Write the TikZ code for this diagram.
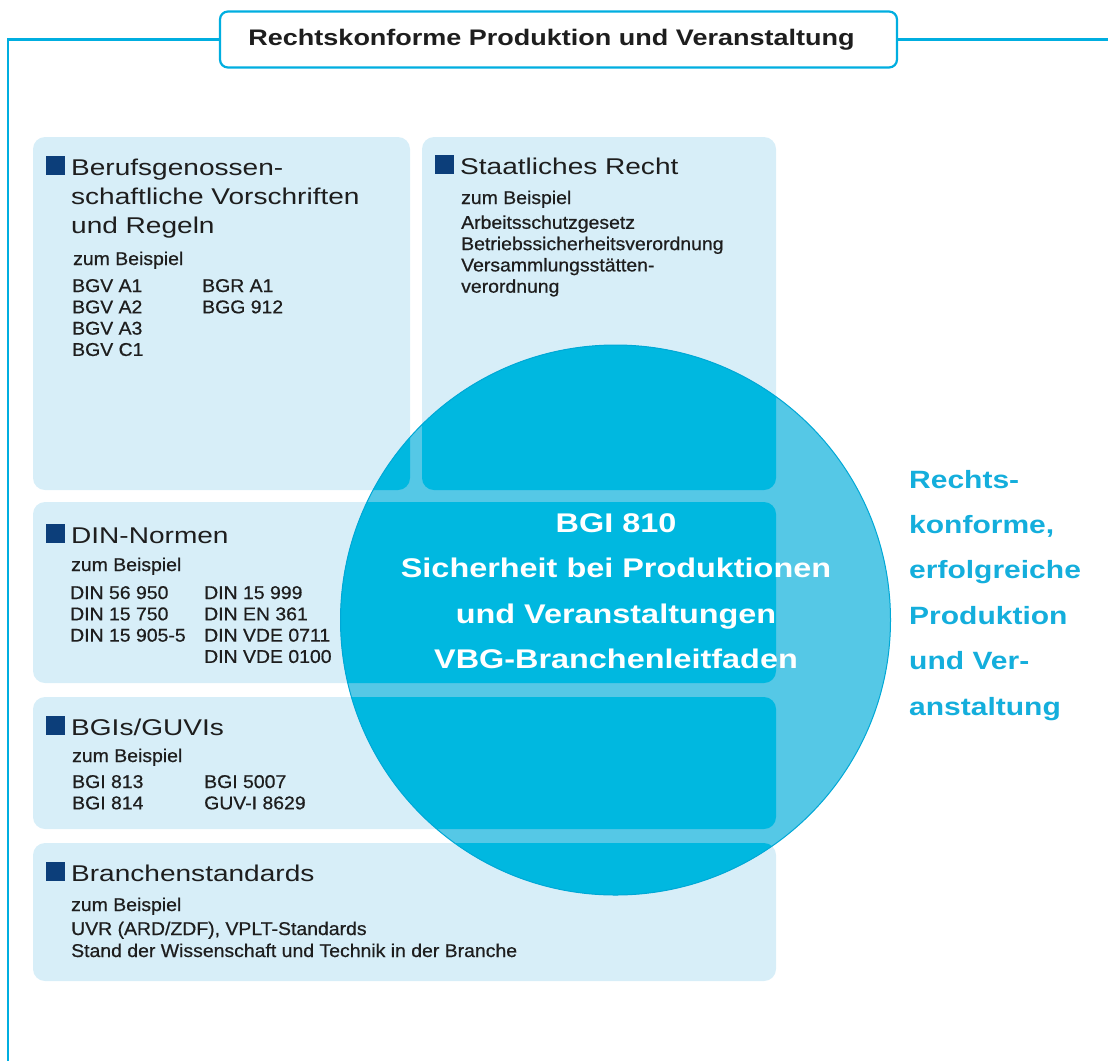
\documentclass[tikz,border=0pt]{standalone}
\usepackage{fontspec}
\setmainfont{Liberation Sans}
\newfontfamily\widefont[FakeStretch=1.2]{Liberation Sans}
\newfontfamily\headfont[FakeStretch=1.23]{Liberation Sans}
\newfontfamily\medfont[FakeBold=0.6, FakeStretch=1.05]{Liberation Sans}

\definecolor{cyanline}{RGB}{0,174,224}
\definecolor{boxblue}{RGB}{215,238,248}
\definecolor{markblue}{RGB}{12,62,122}
\definecolor{circdark}{RGB}{0,184,224}
\definecolor{circlite}{RGB}{85,200,230}
\definecolor{circedge}{RGB}{0,168,214}
\definecolor{sidecyan}{RGB}{20,174,220}
\definecolor{textdark}{RGB}{30,30,30}

\begin{document}
\begin{tikzpicture}[x=1pt, y=-1pt,
  frame/.style={draw=cyanline, line width=2.2pt},
  titlebox/.style={draw=cyanline, line width=2.2pt, fill=white, rounded corners=8pt,
    minimum width=677pt, minimum height=56pt, inner sep=0pt,
    font=\widefont\bfseries\fontsize{22.5}{27}\selectfont, text=textdark},
  boxfill/.style={fill=boxblue, rounded corners=12pt},
  sqmark/.style={fill=markblue, inner sep=0pt, minimum width=19pt, minimum height=19pt, anchor=south west},
  head/.style={anchor=base west, inner sep=0pt, text=textdark, font=\headfont\fontsize{22.8}{28}\selectfont},
  small/.style={anchor=base west, inner sep=0pt, text=textdark, font=\medfont\fontsize{18.5}{21}\selectfont},
  circtext/.style={anchor=base, inner sep=0pt, text=white, font=\widefont\bfseries\fontsize{27}{32}\selectfont},
  sidetext/.style={anchor=base west, inner sep=0pt, text=sidecyan, font=\widefont\bfseries\fontsize{25}{30}\selectfont}]

\useasboundingbox (0,0) rectangle (1108,1061);

% title and frame line
\node[titlebox] (title) at (558.5,39.5) {Rechtskonforme Produktion und Veranstaltung\hspace*{14pt}};
\coordinate (fl) at (8,39.5);
\coordinate (fb) at (8,1061);
\coordinate (fr) at (1108,39.5);
\draw[frame] (title.west) -- (fl) -- (fb);
\draw[frame] (title.east) -- (fr);

% the five boxes
\foreach \xa/\ya/\xb/\yb in {33/137/410/490, 422/137/776/490, 33/502/776/683, 33/697/776/829, 33/843/776/981}
  \fill[boxfill] (\xa,\ya) rectangle (\xb,\yb);

% circle over the boxes
\coordinate (ctr) at (615.5,620);
\fill[circlite] (ctr) circle (275);
\begin{scope}
  \clip (ctr) circle (275);
  \foreach \xa/\ya/\xb/\yb in {33/137/410/490, 422/137/776/490, 33/502/776/683, 33/697/776/829, 33/843/776/981}
    \fill[boxfill, fill=circdark] (\xa,\ya) rectangle (\xb,\yb);
\end{scope}
\draw[circedge, line width=1pt] (ctr) circle (275);

% Berufsgenossenschaft
\node[sqmark] (m1) at (46,175) {};
\node[head] (h1a) at (71,175) {Berufsgenossen-};
\node[head] (h1b) at (71,204) {schaftliche Vorschriften};
\node[head] (h1c) at (71,233) {und Regeln};
\node[small] (z1) at (73,265) {zum Beispiel};
\foreach \t [count=\i] in {BGV A1, BGV A2, BGV A3, BGV C1}
  \node[small] (b1l\i) at (72,{270.7+21.3*\i}) {\t};
\foreach \t [count=\i] in {BGR A1, BGG 912}
  \node[small] (b1r\i) at (202,{270.7+21.3*\i}) {\t};

% Staatliches Recht
\node[sqmark] (m2) at (435,174) {};
\node[head] (h2) at (460,174) {Staatliches Recht};
\node[small] (z2) at (461,204) {zum Beispiel};
\foreach \t [count=\i] in {Arbeitsschutzgesetz, Betriebssicherheitsverordnung, Versammlungsst\"atten-, verordnung}
  \node[small] (b2\i) at (461,{207.5+21.3*\i}) {\t};

% DIN
\node[sqmark] (m3) at (46,543) {};
\node[head] (h3) at (71,543) {DIN-Normen};
\node[small] (z3) at (71,571) {zum Beispiel};
\foreach \t [count=\i] in {DIN 56 950, DIN 15 750, DIN 15 905-5}
  \node[small] (b3l\i) at (70,{577.7+21.3*\i}) {\t};
\foreach \t [count=\i] in {DIN 15 999, DIN EN 361, DIN VDE 0711, DIN VDE 0100}
  \node[small] (b3r\i) at (204,{577.7+21.3*\i}) {\t};

% BGI/GUV-I
\node[sqmark] (m4) at (46,735) {};
\node[head] (h4) at (71,735) {BGIs/GUVIs};
\node[small] (z4) at (72,762) {zum Beispiel};
\foreach \t [count=\i] in {BGI 813, BGI 814}
  \node[small] (b4l\i) at (72,{766.7+21.3*\i}) {\t};
\foreach \t [count=\i] in {BGI 5007, GUV-I 8629}
  \node[small] (b4r\i) at (204,{766.7+21.3*\i}) {\t};

% Branchenstandards
\node[sqmark] (m5) at (46,881) {};
\node[head] (h5) at (71,881) {Branchenstandards};
\node[small] (z5) at (71,911) {zum Beispiel};
\node[small] (b51) at (71,935) {UVR (ARD/ZDF), VPLT-Standards};
\node[small] (b52) at (71,957) {Stand der Wissenschaft und Technik in der Branche};

% text in the circle
\foreach \t [count=\i] in {BGI 810, Sicherheit bei Produktionen, und Veranstaltungen, VBG-Branchenleitfaden}
  \node[circtext] (c\i) at (616,{486.5+45.5*\i}) {\t};

% text on the right
\foreach \t [count=\i] in {Rechts-, {konforme,}, erfolgreiche, Produktion, und Ver-, anstaltung}
  \node[sidetext] (s\i) at (909,{442.6+45.4*\i}) {\t};

\end{tikzpicture}
\end{document}
